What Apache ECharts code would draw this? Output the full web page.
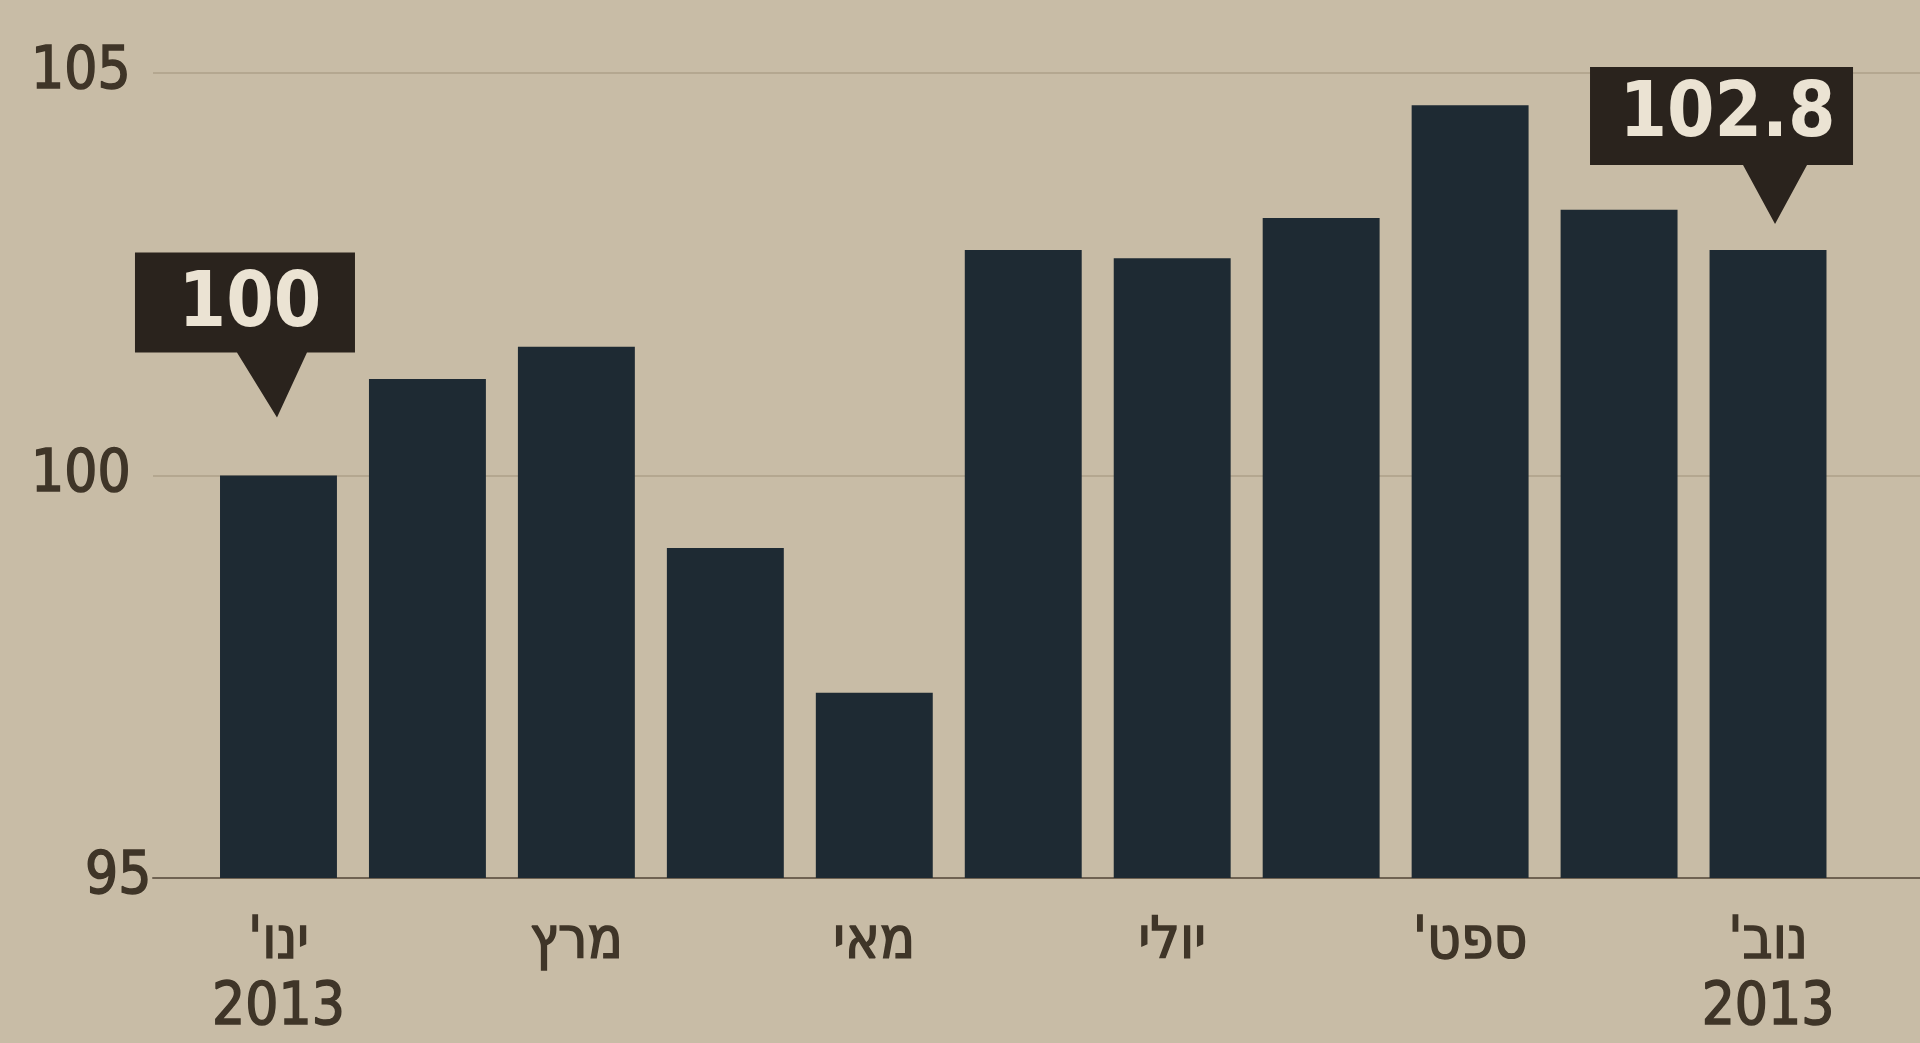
<!DOCTYPE html>
<html>
<head>
<meta charset="utf-8">
<script src="https://cdn.jsdelivr.net/npm/echarts@6/dist/echarts.min.js"></script>
<style>
  html, body { margin: 0; padding: 0; background: #c8bca6; }
  #chart { width: 1920px; height: 1043px; }
</style>
</head>
<body>
<div id="chart"></div>
<script>
// ---- data ----
const months = ["ינו'", "פבר'", "מרץ", "אפר'", "מאי", "יוני", "יולי", "אוג'", "ספט'", "אוק'", "נוב'"];
const values = [100, 101.2, 101.6, 99.1, 97.3, 102.8, 102.7, 103.2, 104.6, 103.3, 102.8];
const yearLabel = '2013';
const yTicks = [95, 100, 105];
const callouts = [
  { index: 0, text: '100' },
  { index: 10, text: '102.8' }
];

// ---- styles ----
const FONT = '"DejaVu Sans Condensed", "DejaVu Sans", sans-serif';
const TEXT = '#3f3528';
const BAR = '#1e2a33';
const BOX = '#2a231d';

const calloutShapes = [
  { path: 'path://M0,0 H220 V100 H172 L142,165 L102,100 H0 Z', size: [220, 165], offset: [-33.5, -140.5], labelOffset: [5, -29] },
  { path: 'path://M0,0 H263 V98 H217 L185,157 L153,98 H0 Z', size: [263, 157], offset: [-46.5, -104.5], labelOffset: [6, -29] }
];

const chart = echarts.init(document.getElementById('chart'));
chart.setOption({
  backgroundColor: '#c8bca6',
  animation: false,
  grid: [
    { left: 153, right: 0, top: 73, bottom: 165 },
    { left: 204, right: 77.5, top: 73, bottom: 165 }
  ],
  xAxis: [
    {
      gridIndex: 0, type: 'value', min: 0, max: 1,
      axisLine: { show: true, lineStyle: { color: '#6f6252', width: 2 } },
      axisTick: { show: false }, axisLabel: { show: false }, splitLine: { show: false }
    },
    {
      gridIndex: 1, type: 'category', data: months,
      axisLine: { show: false }, axisTick: { show: false },
      axisLabel: {
        interval: 1,
        margin: 32,
        color: TEXT,
        textBorderColor: TEXT,
        textBorderWidth: 1.5,
        fontFamily: FONT,
        fontSize: 58,
        lineHeight: 66,
        formatter: function (v, i) {
          const name = v + '\u200F';
          return (i === 0 || i === months.length - 1) ? name + '\n' + yearLabel : name;
        }
      }
    }
  ],
  yAxis: [
    {
      gridIndex: 0, type: 'value', min: yTicks[0], max: yTicks[yTicks.length - 1], interval: yTicks[1] - yTicks[0],
      axisLine: { show: false }, axisTick: { show: false },
      axisLabel: {
        margin: 122,
        align: 'left',
        color: TEXT,
        textBorderColor: TEXT,
        textBorderWidth: 1.5,
        fontFamily: FONT,
        fontSize: 58,
        formatter: function (v) {
          return v === yTicks[0] ? '{low|' + v + '}' : String(v);
        },
        rich: {
          low: {
            padding: [0, 0, 0, 54],
            color: TEXT,
            textBorderColor: TEXT,
            textBorderWidth: 1.5,
            fontFamily: FONT,
            fontSize: 58
          }
        }
      },
      splitLine: { show: true, lineStyle: { color: '#b4a790', width: 2 } }
    },
    {
      gridIndex: 1, type: 'value', min: yTicks[0], max: yTicks[yTicks.length - 1], interval: yTicks[1] - yTicks[0],
      show: false
    }
  ],
  series: [
    {
      type: 'bar',
      xAxisIndex: 1,
      yAxisIndex: 1,
      data: values,
      barCategoryGap: '21.5%',
      itemStyle: { color: BAR },
      markPoint: {
        silent: true,
        data: callouts.map(function (c, k) {
          const s = calloutShapes[k];
          return {
            coord: [c.index, values[c.index]],
            value: c.text,
            symbol: s.path,
            symbolSize: s.size,
            symbolOffset: s.offset,
            itemStyle: { color: BOX },
            label: {
              show: true,
              formatter: c.text,
              color: '#ebe3d3',
              fontFamily: FONT,
              fontWeight: 'bold',
              fontSize: 76,
              offset: s.labelOffset
            }
          };
        })
      }
    }
  ]
});
</script>
</body>
</html>
